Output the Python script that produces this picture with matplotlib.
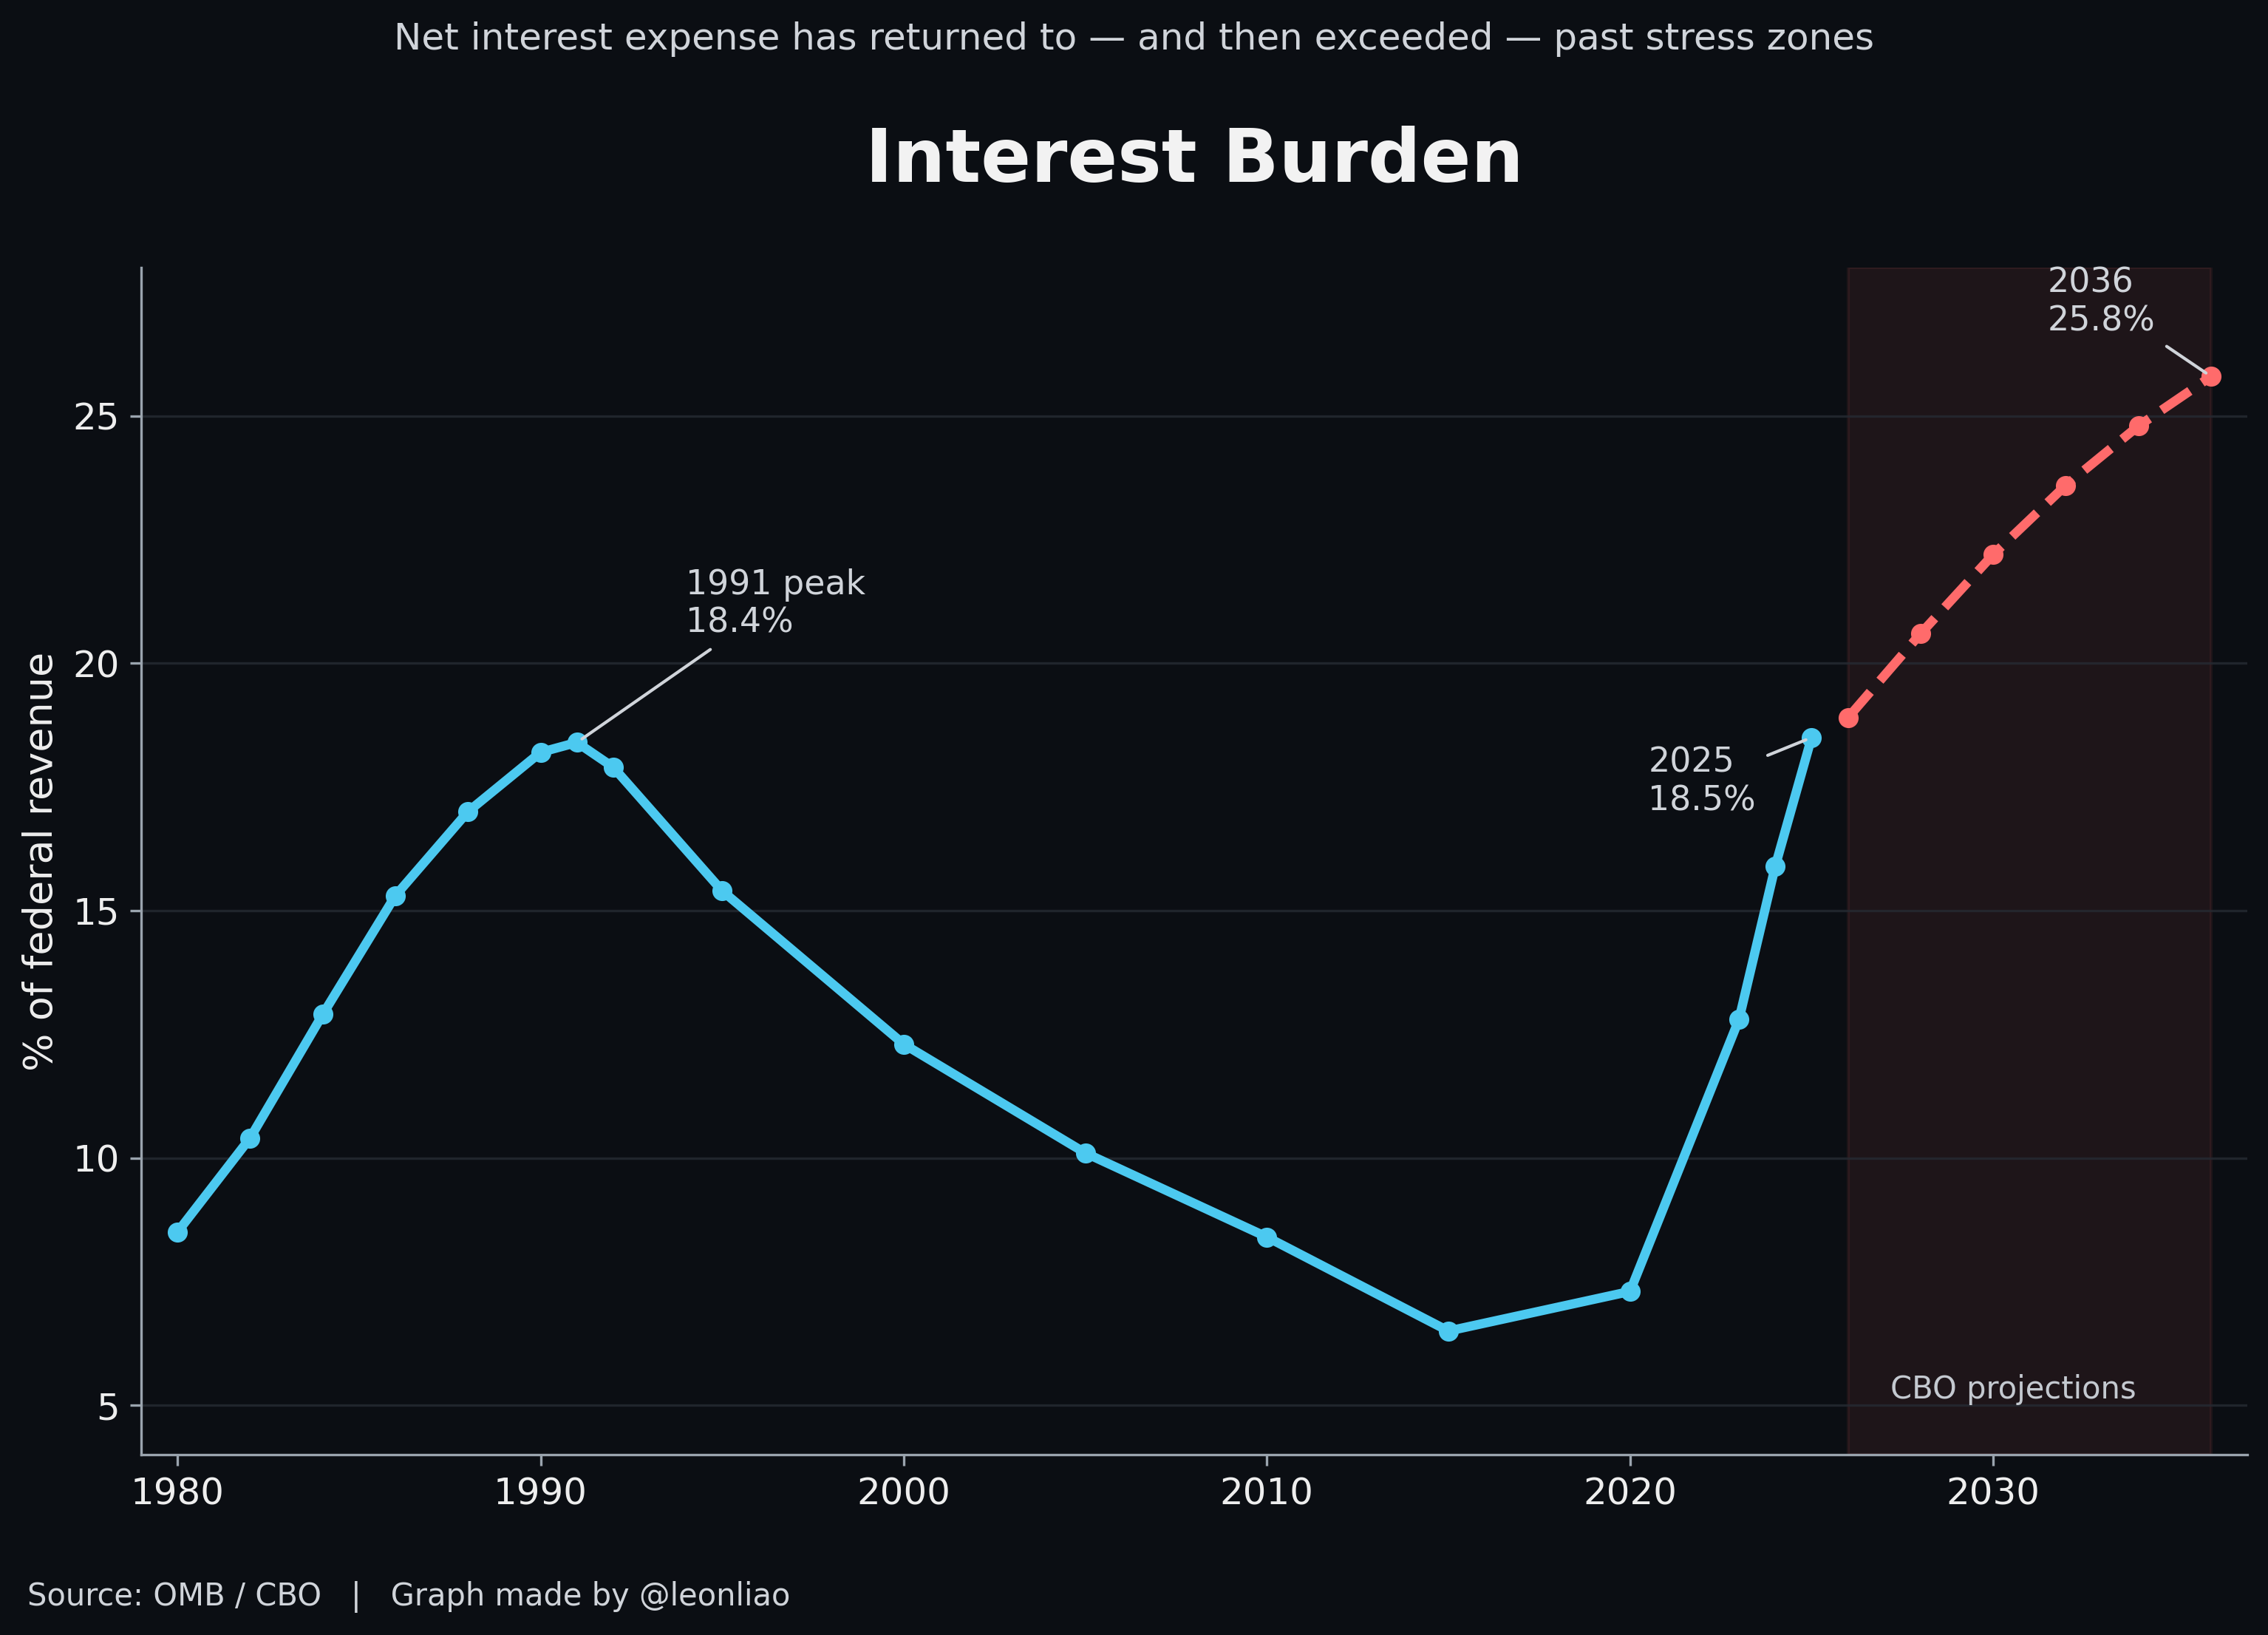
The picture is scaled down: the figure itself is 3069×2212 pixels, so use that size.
import matplotlib
matplotlib.use('Agg')
import matplotlib.pyplot as plt

# historical net interest as % of federal revenue (OMB)
hist_years = [1980, 1982, 1984, 1986, 1988, 1990, 1991, 1992, 1995, 2000, 2005,
              2010, 2015, 2020, 2023, 2024, 2025]
hist_values = [8.5, 10.4, 12.9, 15.3, 17.0, 18.2, 18.4, 17.9, 15.4, 12.3, 10.1,
               8.4, 6.5, 7.3, 12.8, 15.9, 18.5]

# CBO projections
proj_years = [2026, 2028, 2030, 2032, 2034, 2036]
proj_values = [18.9, 20.6, 22.2, 23.6, 24.8, 25.8]

bg = '#0b0e13'
blue = '#4cc9f0'
red = '#ff6b6b'
text_col = '#d0d4da'

fig = plt.figure(figsize=(3070 / 300, 2212 / 300), dpi=300, facecolor=bg)
ax = fig.add_axes([0.0622, 0.1103, 0.9284, 0.726])
ax.set_facecolor(bg)

ax.axvspan(proj_years[0], proj_years[-1], color=red, alpha=0.08, zorder=0)

ax.plot(hist_years, hist_values, color=blue, lw=3, marker='o', markersize=5.5, zorder=3)
ax.plot(proj_years, proj_values, color=red, lw=3, ls='--', marker='o', markersize=5.5, zorder=3)

ax.set_xlim(1979, 2037)
ax.set_ylim(4, 28)
ax.set_yticks([5, 10, 15, 20, 25])

ax.grid(axis='y', color='#262b33', lw=0.8, alpha=0.8, zorder=1)
ax.grid(axis='x', visible=False)
ax.set_axisbelow(True)

for side in ['top', 'right']:
    ax.spines[side].set_visible(False)
for side in ['left', 'bottom']:
    ax.spines[side].set_color('#9aa4ae')
    ax.spines[side].set_linewidth(0.8)
ax.tick_params(colors='#9aa4ae', labelcolor='#eeeeee', labelsize=12)

ax.set_ylabel('% of federal revenue', fontsize=13, color='#eeeeee')
ax.set_title('Interest Burden', fontsize=24, fontweight='bold', color='#f2f2f2', pad=28)

arrow = dict(arrowstyle='-', color=text_col, lw=1)
ax.annotate('1991 peak\n18.4%', xy=(1991, 18.4), xytext=(1994, 21.2),
            ha='left', va='center', fontsize=11, color=text_col, arrowprops=arrow)
ax.annotate('2025\n18.5%', xy=(2025, 18.5), xytext=(2020.5, 17.6),
            ha='left', va='center', fontsize=11, color=text_col, arrowprops=arrow)
ax.annotate('2036\n25.8%', xy=(2036, 25.8), xytext=(2031.5, 27.3),
            ha='left', va='center', fontsize=11, color=text_col, arrowprops=arrow)

ax.text(2030.55, 5.0, 'CBO projections', ha='center', va='bottom', fontsize=10, color='#c4c9d0')

fig.text(0.5, 0.976, 'Net interest expense has returned to \u2014 and then exceeded \u2014 past stress zones',
         ha='center', va='center', fontsize=12, color=text_col)
fig.text(0.012, 0.0235, 'Source: OMB / CBO   |   Graph made by @leonliao',
         ha='left', va='center', fontsize=10, color=text_col)

fig.savefig('out.png', dpi=300, facecolor=bg)
